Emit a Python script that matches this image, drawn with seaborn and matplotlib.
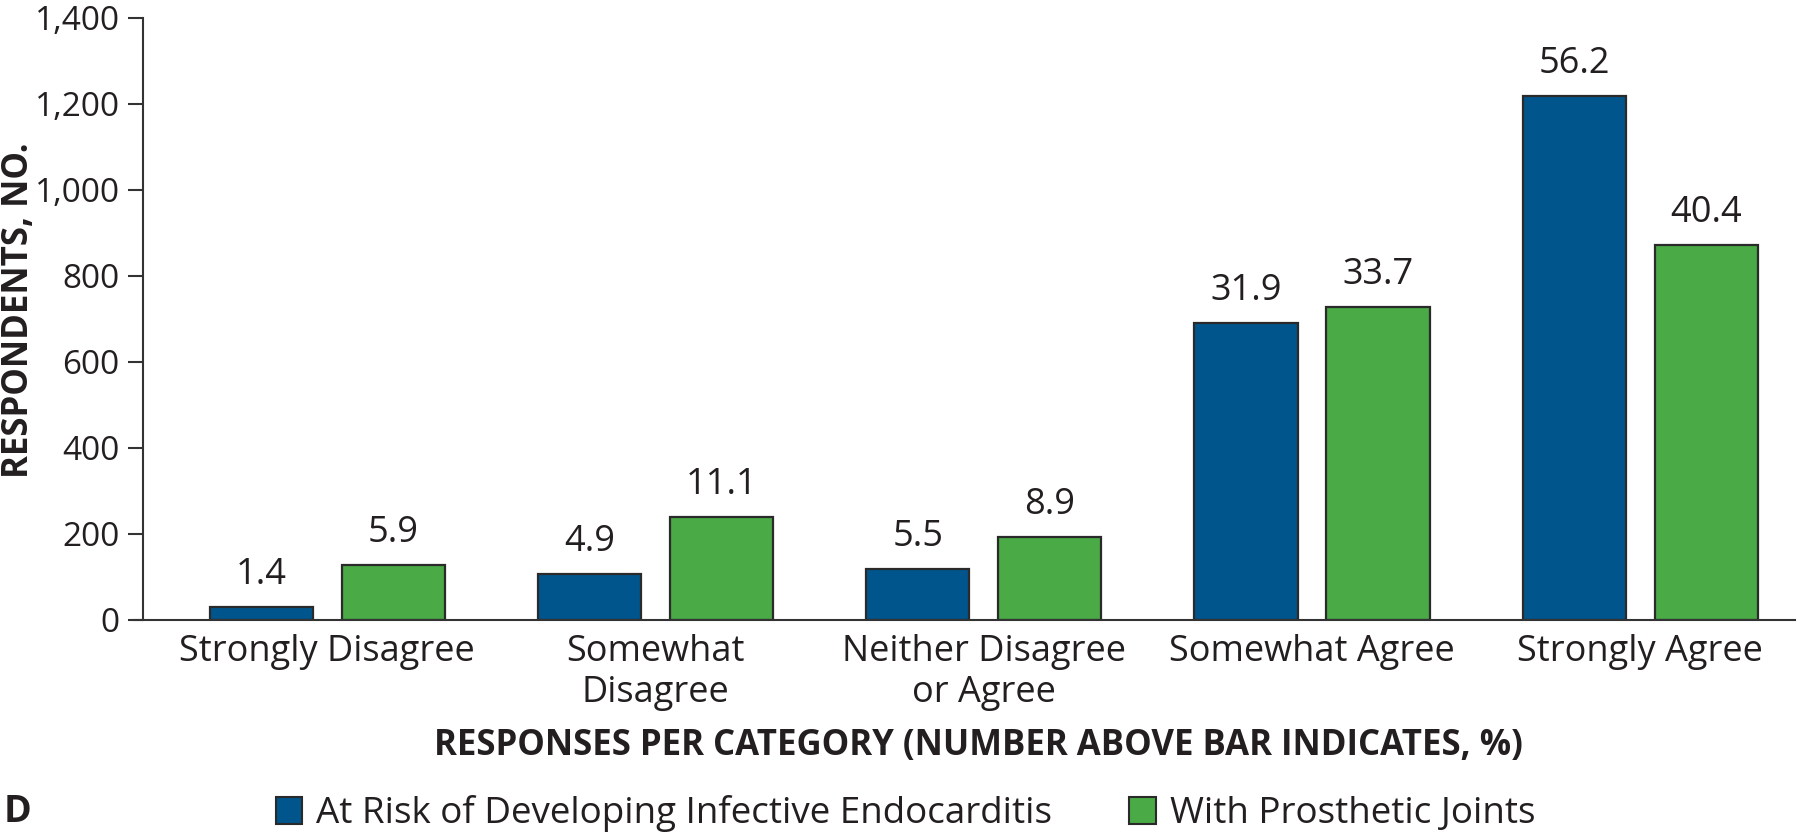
import matplotlib
matplotlib.use("Agg")
import matplotlib.pyplot as plt
import seaborn as sns
import pandas as pd
from matplotlib.patches import Patch

categories = ["Strongly Disagree", "Somewhat\nDisagree", "Neither Disagree\nor Agree",
              "Somewhat Agree", "Strongly Agree"]
series_names = ["At Risk of Developing Infective Endocarditis", "With Prosthetic Joints"]
endocarditis = [30, 106, 119, 691, 1217]
prosthetic = [127, 239, 192, 727, 871]
endo_pct = ["1.4", "4.9", "5.5", "31.9", "56.2"]
pros_pct = ["5.9", "11.1", "8.9", "33.7", "40.4"]
yticks = [0, 200, 400, 600, 800, 1000, 1200, 1400]

BLUE = "#00558C"
GREEN = "#4AAA45"
TXT = "#231F20"
FS = 26

sns.set_theme(style="white")
plt.rcParams["font.family"] = ["Open Sans", "DejaVu Sans"]

df = pd.DataFrame({
    "category": categories * 2,
    "series": [series_names[0]] * 5 + [series_names[1]] * 5,
    "value": endocarditis + prosthetic,
    "label": endo_pct + pros_pct,
})

fig = plt.figure(figsize=(18, 8.34), dpi=100)
ax = fig.add_axes([0.0797, 0.2566, 0.9173, 0.7224])

sns.barplot(data=df, x="category", y="value", hue="series", order=categories,
            hue_order=series_names, palette=[BLUE, GREEN], width=0.804, gap=0.217,
            edgecolor="#2a2a2a", linewidth=1.6, saturation=1, legend=False, ax=ax)

for cont, labs in zip(ax.containers, [endo_pct, pros_pct]):
    ax.bar_label(cont, labels=labs, padding=10, fontsize=FS, color=TXT)

ax.set_xlim(-0.56, 4.47)
ax.set_ylim(0, 1400)
ax.set_yticks(yticks)
ax.set_yticklabels([f"{v:,}" for v in yticks], fontsize=24, color=TXT)
ax.tick_params(axis="y", direction="out", length=11, width=1.5, color="#333333", pad=6, left=True)
ax.tick_params(axis="x", length=0, pad=10, labelsize=FS, labelcolor=TXT)
for lab in ax.get_xticklabels():
    lab.set_linespacing(1.2)
for s in ["top", "right"]:
    ax.spines[s].set_visible(False)
ax.spines["left"].set_color("#333333")
ax.spines["left"].set_linewidth(1.5)
ax.spines["bottom"].set_color("#333333")
ax.spines["bottom"].set_linewidth(1.5)
ax.spines["bottom"].set_bounds(-0.56 - 0.03, 4.47)
ax.set_xlabel("")
ax.set_ylabel("")
ax.grid(False)

fig.text(0.5435, 0.106, "RESPONSES PER CATEGORY (NUMBER ABOVE BAR INDICATES, %)", fontsize=25,
         fontweight="bold", color=TXT, ha="center", va="center")
fig.text(0.0105, 0.628, "RESPONDENTS, NO.", fontsize=25, fontweight="bold", color=TXT,
         ha="center", va="center", rotation=90)

handles = [Patch(facecolor=BLUE, edgecolor="#2a2a2a", linewidth=1.5),
           Patch(facecolor=GREEN, edgecolor="#2a2a2a", linewidth=1.5)]
fig.legend(handles, series_names, loc="center", bbox_to_anchor=(0.503, 0.024), ncol=2,
           frameon=False, fontsize=26.5, handlelength=0.72, handleheight=0.72,
           handletextpad=0.38, columnspacing=2.1, labelcolor=TXT, borderpad=0, borderaxespad=0)

fig.text(0.002, 0.026, "D", fontsize=27, fontweight="bold", color=TXT, va="center", ha="left")

fig.savefig("out.png", dpi=100)
